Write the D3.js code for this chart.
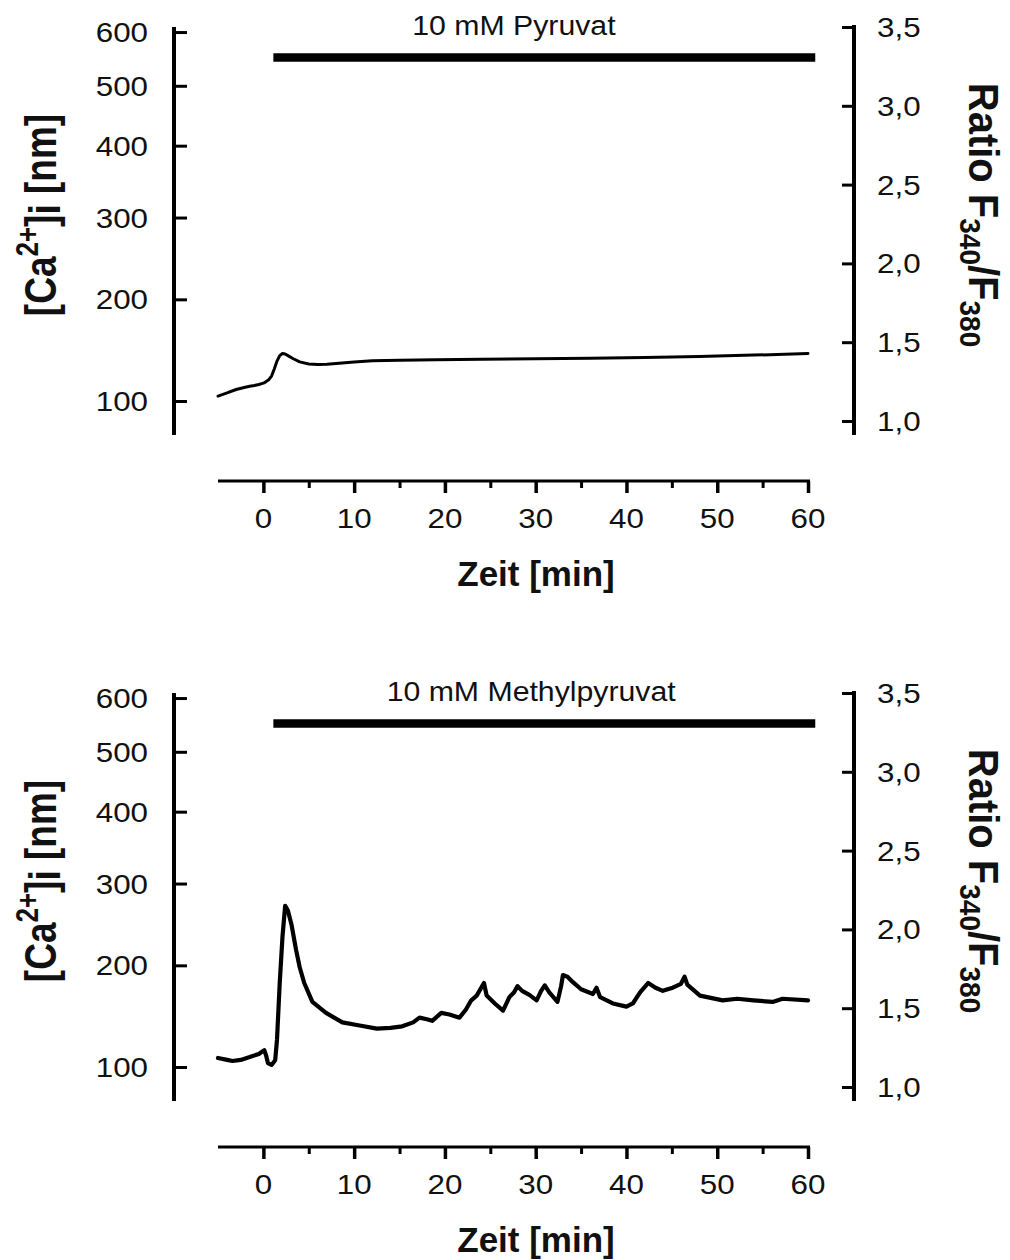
<!DOCTYPE html>
<html>
<head>
<meta charset="utf-8">
<script src="https://cdn.jsdelivr.net/npm/d3@7"></script>
<style>
  html, body { margin: 0; padding: 0; background: #fff; }
  svg { display: block; font-family: "Liberation Sans", Arial, Helvetica, sans-serif; }
</style>
</head>
<body>
<svg id="chart" width="1010" height="1260"></svg>
<script>
// ---------- data ----------
const timeTicks = [0, 10, 20, 30, 40, 50, 60];
const timeMinorTicks = [5, 15, 25, 35, 45, 55];
const ratioTicks = [1.0, 1.5, 2.0, 2.5, 3.0, 3.5];
const ratioTickLabels = ["1,0", "1,5", "2,0", "2,5", "3,0", "3,5"];
const caTicks = [100, 200, 300, 400, 500, 600];
// calibration: F340/F380 ratio corresponding to each [Ca2+]i tick
const caTickRatio = [1.127, 1.772, 2.291, 2.747, 3.127, 3.468];

const stimLabels = ["10 mM Pyruvat", "10 mM Methylpyruvat"];
const stimStart = [1.1, 1.1];
const stimEnd = [60.8, 60.8];

const pyruvatTime = [-5, -4, -3, -2, -1.5, -1, -0.5, 0, 0.3, 0.6, 0.9, 1.2, 1.5, 1.8, 2.1, 2.4, 2.8, 3.3, 4, 5, 6, 7, 8, 10, 12, 15, 19, 24, 30, 36, 42, 48, 54, 60];
const pyruvatRatio = [1.158, 1.178, 1.200, 1.214, 1.220, 1.225, 1.232, 1.240, 1.250, 1.262, 1.285, 1.330, 1.380, 1.415, 1.428, 1.425, 1.412, 1.395, 1.375, 1.362, 1.358, 1.360, 1.365, 1.375, 1.382, 1.386, 1.389, 1.392, 1.395, 1.398, 1.403, 1.410, 1.418, 1.428];

const methylTime = [-5, -4, -3.4, -2.5, -1.5, -0.5, 0.1, 0.3, 0.5, 0.9, 1.3, 1.5, 1.8, 2.1, 2.4, 2.7, 3.1, 3.6, 4.0, 4.5, 5.4, 6.9, 8.7, 10.6, 12.5, 14, 15.3, 16.5, 17.2, 18.0, 18.6, 19.6, 20.5, 21.6, 22.3, 22.9, 23.5, 24.0, 24.3, 24.6, 25.5, 26.4, 27.1, 27.6, 28.0, 28.5, 29.3, 30.1, 30.6, 31.0, 31.5, 32.4, 32.8, 33.0, 33.5, 34.1, 35.0, 36.3, 36.7, 37.1, 38.5, 40.0, 40.7, 41.5, 42.4, 43.2, 44.0, 45.1, 46.0, 46.4, 46.7, 48.1, 50.6, 52.2, 54, 56.1, 57.2, 60];
const methylRatio = [1.184, 1.172, 1.165, 1.172, 1.190, 1.210, 1.234, 1.200, 1.152, 1.140, 1.170, 1.300, 1.660, 1.950, 2.150, 2.120, 2.030, 1.870, 1.760, 1.660, 1.540, 1.470, 1.410, 1.390, 1.370, 1.375, 1.385, 1.410, 1.440, 1.430, 1.420, 1.470, 1.460, 1.440, 1.490, 1.550, 1.580, 1.630, 1.660, 1.580, 1.530, 1.485, 1.570, 1.600, 1.640, 1.610, 1.585, 1.550, 1.610, 1.645, 1.600, 1.540, 1.640, 1.710, 1.700, 1.665, 1.620, 1.590, 1.630, 1.570, 1.530, 1.510, 1.530, 1.600, 1.660, 1.630, 1.610, 1.630, 1.655, 1.700, 1.650, 1.580, 1.550, 1.560, 1.550, 1.540, 1.560, 1.550];

// ---------- layout ----------
const svg = d3.select("#chart");
const panelOffsets = [0, 666];
const traces = [
  { t: pyruvatTime, r: pyruvatRatio, width: 3 },
  { t: methylTime, r: methylRatio, width: 4.2 }
];
const labelCenterTime = [27.6, 29.5];
const SX = 1.14;     // horizontal stretch of the original typeface
const TICK_FS = 27.5;

const x = d3.scaleLinear().domain([-5, 60]).range([218, 808]);

function stretchedText(parent, px, py, anchor, size, txt, sx) {
  return parent.append("g").attr("transform", `translate(${px},${py}) scale(${sx},1)`)
    .append("text").attr("x", 0).attr("y", 0).attr("text-anchor", anchor)
    .attr("font-size", size).attr("fill", "#111").text(txt);
}

panelOffsets.forEach((off, i) => {
  const g = svg.append("g").attr("transform", `translate(0,${off})`);
  const yR = d3.scaleLinear().domain([1.0, 3.5]).range([421, 27]);
  const yCa = d3.scaleLinear().domain(caTicks).range(caTickRatio.map(yR));
  const axisTop = 27, axisBottom = 435;

  // left axis ([Ca2+]i)
  const leftX = 174;
  g.append("line").attr("x1", leftX).attr("x2", leftX).attr("y1", axisTop).attr("y2", axisBottom)
    .attr("stroke", "#000").attr("stroke-width", 4);
  const la = g.append("g").attr("transform", `translate(${leftX},0)`)
    .call(d3.axisRight(yCa).tickValues(caTicks).tickSize(13).tickFormat(""));
  la.select(".domain").remove();
  la.selectAll(".tick line").attr("stroke", "#000").attr("stroke-width", 3);
  caTicks.forEach(d => stretchedText(g, 148, yCa(d) + 10, "end", TICK_FS, d, SX));

  // right axis (ratio)
  const rightX = 854;
  g.append("line").attr("x1", rightX).attr("x2", rightX).attr("y1", axisTop - 2).attr("y2", axisBottom)
    .attr("stroke", "#000").attr("stroke-width", 4);
  const ra = g.append("g").attr("transform", `translate(${rightX},0)`)
    .call(d3.axisLeft(yR).tickValues(ratioTicks).tickSize(12).tickFormat(""));
  ra.select(".domain").remove();
  ra.selectAll(".tick line").attr("stroke", "#000").attr("stroke-width", 3);
  ratioTicks.forEach((d, k) => stretchedText(g, 877, yR(d) + 10, "start", TICK_FS, ratioTickLabels[k], SX));

  // x axis
  const axisY = 481;
  g.append("line").attr("x1", x(-5)).attr("x2", x(60) + 2).attr("y1", axisY).attr("y2", axisY)
    .attr("stroke", "#000").attr("stroke-width", 3);
  const xa = g.append("g").attr("transform", `translate(0,${axisY})`)
    .call(d3.axisBottom(x).tickValues(timeTicks).tickSize(12).tickFormat(""));
  xa.select(".domain").remove();
  xa.selectAll(".tick line").attr("stroke", "#000").attr("stroke-width", 3.5);
  const xm = g.append("g").attr("transform", `translate(0,${axisY})`)
    .call(d3.axisBottom(x).tickValues(timeMinorTicks).tickSize(7).tickFormat(""));
  xm.select(".domain").remove();
  xm.selectAll(".tick line").attr("stroke", "#000").attr("stroke-width", 3);
  timeTicks.forEach(d => stretchedText(g, x(d), axisY + 47, "middle", TICK_FS, d, SX));

  // x title
  g.append("text").attr("x", 536).attr("y", 586).attr("text-anchor", "middle")
    .attr("font-size", 35).attr("font-weight", "bold").attr("fill", "#111")
    .text("Zeit [min]");

  // left title
  const lt = g.append("text").attr("transform", `translate(56,215) scale(1.2,1) rotate(-90)`)
    .attr("text-anchor", "middle").attr("font-size", 37).attr("font-weight", "bold").attr("fill", "#111");
  lt.append("tspan").text("[Ca");
  lt.append("tspan").attr("font-size", 26).attr("dy", -15).text("2+");
  lt.append("tspan").attr("dy", 15).text("]");
  lt.append("tspan").attr("dy", 3).text("i");
  lt.append("tspan").attr("dy", -3).text(" [nm]");

  // right title
  const rt = g.append("text").attr("transform", `translate(969,215) scale(1.05,1) rotate(90)`)
    .attr("text-anchor", "middle").attr("font-size", 40).attr("font-weight", "bold").attr("fill", "#111");
  rt.append("tspan").text("Ratio F");
  rt.append("tspan").attr("font-size", 28).attr("dy", 9).text("340");
  rt.append("tspan").attr("dy", -9).text("/F");
  rt.append("tspan").attr("font-size", 28).attr("dy", 9).text("380");

  // stimulus bar + label
  g.append("line").attr("x1", x(stimStart[i])).attr("x2", x(stimEnd[i])).attr("y1", 57.5).attr("y2", 57.5)
    .attr("stroke", "#000").attr("stroke-width", 8.5);
  stretchedText(g, x(labelCenterTime[i]), 35, "middle", 27.5, stimLabels[i], 1.1);

  // trace
  const tr = traces[i];
  const pts = tr.t.map((t, k) => [t, tr.r[k]]);
  const line = d3.line().x(d => x(d[0])).y(d => yR(d[1]));
  g.append("path").attr("d", line(pts)).attr("fill", "none").attr("stroke", "#000")
    .attr("stroke-width", tr.width).attr("stroke-linejoin", "round").attr("stroke-linecap", "round");
});
</script>
</body>
</html>
